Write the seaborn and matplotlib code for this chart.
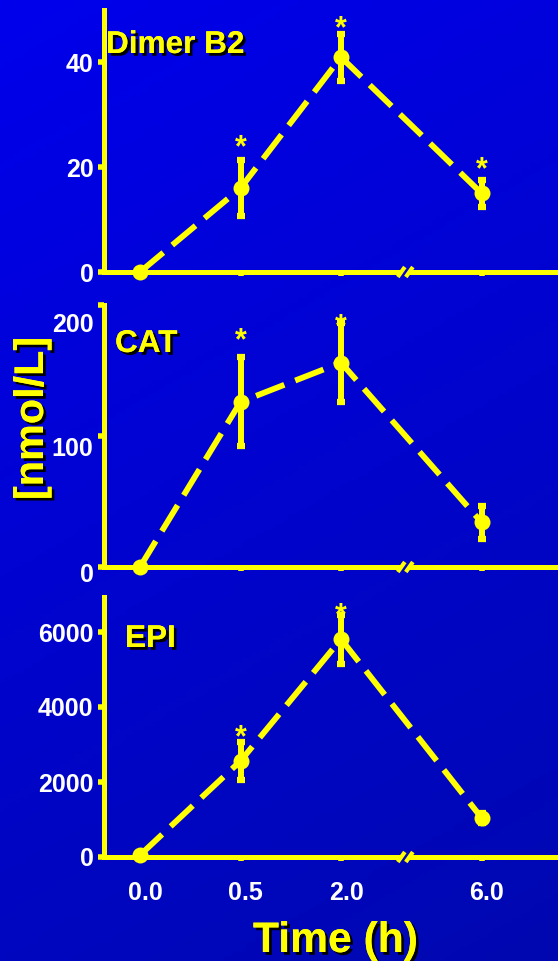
import numpy as np
import pandas as pd
import matplotlib
matplotlib.use("Agg")
import matplotlib.pyplot as plt
import matplotlib.patheffects as pe
from matplotlib.transforms import ScaledTranslation
import seaborn as sns

# ---- data ---------------------------------------------------------------
time_labels = ["0.0", "0.5", "2.0", "6.0"]
time_pos = [0.0, 1.0, 2.0, 3.4]          # 6 h sits after the axis break

dimer_mean = [0.0, 16.0, 41.0, 15.0]
dimer_err = [0.0, 5.3, 4.5, 2.5]
dimer_sig = [False, True, True, True]

cat_mean = [0.0, 126.0, 156.0, 34.0]
cat_err = [0.0, 34.0, 30.0, 12.5]
cat_sig = [False, True, True, False]

epi_mean = [50.0, 2560.0, 5810.0, 1040.0]
epi_err = [0.0, 510.0, 650.0, 130.0]
epi_sig = [False, True, True, False]

panel_names = ["Dimer B2", "CAT", "EPI"]
panel_ymax = [50, 200, 6930]
panel_yticks = [[0, 20, 40], [0, 100, 200], [0, 2000, 4000, 6000]]

frames = []
for name, m, e, s in zip(panel_names,
                         [dimer_mean, cat_mean, epi_mean],
                         [dimer_err, cat_err, epi_err],
                         [dimer_sig, cat_sig, epi_sig]):
    frames.append(pd.DataFrame({"compound": name, "time": time_labels,
                                "pos": time_pos, "mean": m, "err": e, "sig": s}))
df = pd.concat(frames, ignore_index=True)

# ---- style --------------------------------------------------------------
sns.set_theme(style="white")
plt.rcParams["font.family"] = ["Liberation Sans", "DejaVu Sans"]
plt.rcParams["font.weight"] = "bold"

YELLOW = "#FFFF00"
WHITE = "#FFFFFF"
shadow = [pe.withSimplePatchShadow(offset=(2, -2), shadow_rgbFace="black", alpha=1.0),
          pe.Normal()]

W, H = 558, 961
fig = plt.figure(figsize=(W / 100, H / 100), dpi=100)

# blue gradient backdrop
bg = fig.add_axes([0, 0, 1, 1], zorder=-10)
yy, xx = np.mgrid[0:1:200j, 0:1:120j]
t = 0.75 * yy + 0.25 * xx
top = np.array([0, 0, 236]) / 255
bot = np.array([0, 8, 176]) / 255
img = top[None, None, :] + (bot - top)[None, None, :] * t[..., None]
bg.imshow(img, aspect="auto", extent=[0, 1, 0, 1], origin="upper")
bg.set_axis_off()

# axes geometry (pixel based)
x0_px, x_unit = 140.0, 100.5
left_px = 104
xmin = (left_px - x0_px) / x_unit
xmax = (W - x0_px) / x_unit
bottoms_px = [272, 567, 857]
unit_px = [262 / 50, 131 / 100, 75 / 2000]

# gaps (px) between error-bar top and asterisk centre
star_gap_px = [[0, 22, 14, 20], [0, 26, 6, 0], [0, 14, 9, 0]]
# extra downward shift of y tick labels in the middle panel (px)
label_shift_px = {1: {0: 5, 100: 11, 200: 18}}
title_pos_px = [(106, 53), (115, 352), (125, 647)]

break_x = 2.64
gap = 0.04
LW = 4.2

for i, name in enumerate(panel_names):
    ymax = panel_ymax[i]
    h_px = ymax * unit_px[i]
    b = bottoms_px[i]
    ax = fig.add_axes([left_px / W, 1 - b / H, (W - left_px) / W, h_px / H])
    ax.set_facecolor("none")
    sub = df[df["compound"] == name]

    sns.lineplot(data=sub, x="pos", y="mean", ax=ax, color=YELLOW, lw=LW,
                 linestyle=(0, (5.2, 2.0)), marker="o", markersize=11.5,
                 markeredgewidth=0, errorbar=None, sort=False)
    for ln in ax.lines:
        ln.set_clip_on(False)
        ln.set_dash_capstyle("butt")

    eb = sub[sub["err"] > 0]
    ax.errorbar(eb["pos"], eb["mean"], yerr=eb["err"], fmt="none",
                ecolor=YELLOW, elinewidth=4.3, capsize=3.2, capthick=4.5,
                clip_on=False, zorder=3)

    # asterisks
    for j, (p, m, e, s) in enumerate(zip(sub["pos"], sub["mean"], sub["err"], sub["sig"])):
        if not s:
            continue
        off_px = star_gap_px[i][j] - 18
        ax.annotate("*", xy=(p, m + e), xytext=(0, off_px * 0.72),
                    textcoords="offset points", ha="center", va="baseline",
                    fontsize=22, fontweight="bold", color=YELLOW,
                    annotation_clip=False)

    ax.set_xlim(xmin, xmax)
    ax.set_ylim(0, ymax)
    ax.set_xlabel("")
    ax.set_ylabel("")
    ax.set_yticks(panel_yticks[i])
    ax.set_yticklabels([str(v) for v in panel_yticks[i]])
    ax.set_xticks(time_pos)
    if i == 2:
        ax.set_xticklabels(time_labels)
    else:
        ax.set_xticklabels([])

    ax.tick_params(axis="y", length=4, width=4, color=YELLOW, labelcolor=WHITE,
                   labelsize=18, pad=3.5, left=True)
    ax.tick_params(axis="x", length=3, width=4, color=YELLOW, labelcolor=WHITE,
                   labelsize=18, pad=14, bottom=True)
    for lab in ax.get_yticklabels() + ax.get_xticklabels():
        lab.set_fontweight("bold")

    if i == 2:
        for lab in ax.get_xticklabels():
            lab.set_transform(lab.get_transform() +
                              ScaledTranslation(5 / 100, 0, fig.dpi_scale_trans))
    if i in label_shift_px:
        for lab, v in zip(ax.get_yticklabels(), panel_yticks[i]):
            d = label_shift_px[i][v]
            lab.set_transform(lab.get_transform() +
                              ScaledTranslation(0, -d / 100, fig.dpi_scale_trans))

    for side in ["top", "right", "bottom"]:
        ax.spines[side].set_visible(False)
    ax.spines["left"].set_color(YELLOW)
    ax.spines["left"].set_linewidth(3.6)

    # broken x axis
    tr = ax.get_xaxis_transform()
    ax.plot([xmin, break_x - gap], [0, 0], transform=tr, color=YELLOW, lw=3.6,
            clip_on=False, solid_capstyle="butt")
    ax.plot([break_x + gap, xmax], [0, 0], transform=tr, color=YELLOW, lw=3.6,
            clip_on=False, solid_capstyle="butt")
    dy = 5 / h_px
    for cx in (break_x - gap, break_x + gap):
        ax.plot([cx - 0.035, cx + 0.035], [-dy, dy], transform=tr, color=YELLOW,
                lw=3, clip_on=False, solid_capstyle="butt")

    tx, ty = title_pos_px[i]
    fig.text(tx / W, 1 - ty / H, name, ha="left", va="baseline", fontsize=22.7,
             fontweight="bold", color=YELLOW, path_effects=shadow)

fig.text(32 / W, 1 - 418.5 / H, "[nmol/L]", rotation=90, ha="center", va="center",
         fontsize=29.8, fontweight="bold", color=YELLOW, path_effects=shadow)
fig.text(335.5 / W, 1 - 952 / H, "Time (h)", ha="center", va="baseline",
         fontsize=30.7, fontweight="bold", color=YELLOW, path_effects=shadow)

fig.savefig("out.png", dpi=100)
